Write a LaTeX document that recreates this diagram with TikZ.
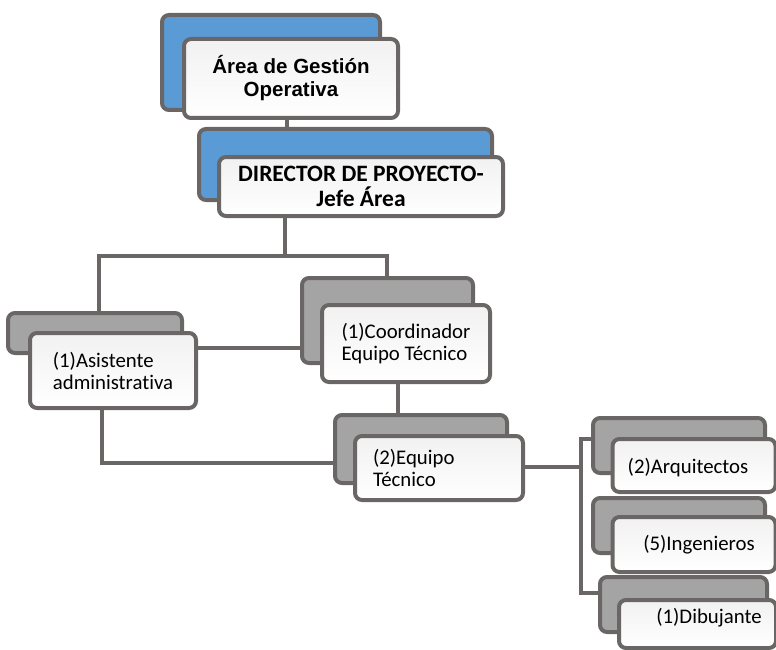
\documentclass[tikz,border=0pt]{standalone}
\usepackage{fontspec}
\setmainfont{Carlito}[Ligatures=NoCommon]
\newfontfamily\headfont{Liberation Sans}
\usetikzlibrary{calc}

\definecolor{edge}{HTML}{6B6666}
\definecolor{backgray}{HTML}{A4A4A4}
\definecolor{backblue}{HTML}{5B9BD5}
\definecolor{frontfill}{HTML}{F1F1F1}

\tikzset{
  box/.style={draw=edge, line width=4pt, rounded corners=7pt, inner sep=0pt},
  backg/.style={box, fill=backgray},
  backb/.style={box, fill=backblue},
  front/.style={box, top color=frontfill, bottom color=white},
  wire/.style={draw=edge, line width=3.2pt},
  lbl/.style={font=\fontsize{20.8}{22}\selectfont, align=left, inner sep=0pt},
  headlbl/.style={font=\headfont\bfseries\fontsize{20.5}{23}\selectfont, align=center},
  dirlbl/.style={font=\bfseries\fontsize{23.5}{25}\selectfont, align=center},
  sz/.style 2 args={minimum width=#1pt, minimum height=#2pt},
}

\begin{document}
\begin{tikzpicture}[x=1pt, y=-1pt]
  \useasboundingbox (0,0) rectangle (776,650);

  % junction points of the connectors
  \coordinate (j0) at (287,120);
  \coordinate (j1) at (285,256);
  \coordinate (jl) at (99,256);
  \coordinate (jr) at (387,256);
  \coordinate (j2) at (250,348);
  \coordinate (j3) at (398,400);
  \coordinate (j4) at (102,463);
  \coordinate (j5) at (581,467);
  \coordinate (j6) at (581,439);
  \coordinate (j7) at (581,593);

  % back plates
  \node[backb, sz={218}{95}]  (a1b)   at (271,62.5)  {};
  \node[backb, sz={293}{71}]  (a2b)   at (345.5,164.5) {};
  \node[backg, sz={174}{40}]  (asisb) at (95,333)    {};
  \node[backg, sz={171}{85}]  (coordb) at (387.5,320.5) {};
  \node[backg, sz={172}{68}]  (eqb)   at (421,449)   {};
  \node[backg, sz={172}{55}]  (arqb)  at (679,445.5) {};
  \node[backg, sz={172}{55}]  (ingb)  at (679,525.5) {};
  \node[backg, sz={167}{55}]  (dibb)  at (683.5,604.5) {};

  % connectors
  \draw[wire] (a1b.south -| j0) -- (a2b.north -| j0);
  \draw[wire] (a2b.south -| j1) -- (j1);
  \draw[wire] (asisb.north -| jl) -- (jl) -- (jr) -- (coordb.north -| jr);
  \draw[wire] (asisb.east |- j2) -- (coordb.west |- j2);
  \draw[wire] (coordb.south -| j3) -- (eqb.north -| j3);
  \draw[wire] (asisb.south -| j4) -- (j4) -- (eqb.west |- j4);
  \draw[wire] (eqb.east |- j5) -- (j5);
  \draw[wire] (arqb.west |- j6) -- (j6) -- (j7) -- (dibb.west |- j7);

  % front cards
  \node[front, sz={214}{79}, headlbl] (a1f) at (291,78.5)
    {Área de Gestión\\Operativa};
  \node[front, sz={284}{59}, dirlbl] (a2f) at (361,186.5)
    {DIRECTOR DE PROYECTO-\\Jefe Área};
  \node[front, sz={166}{75}, lbl] (asisf) at (113,370.5)
    {(1)Asistente\\administrativa};
  \node[front, sz={168}{77}, lbl] (coordf) at (406,343.5)
    {(1)Coordinador\\Equipo Técnico};
  \node[front, sz={168}{64}, lbl, text width=132pt] (eqf) at (439,468)
    {(2)Equipo\\Técnico};
  \node[front, sz={163}{53}] (arqf) at (694,465.5) {};
  \node[front, sz={163}{55}] (ingf) at (694,544.5) {};
  \node[front, sz={157}{48}] (dibf) at (697.5,624) {};

  % labels of the right-hand cards
  \node[lbl] (arqt) at (688,468) {(2)Arquitectos};
  \node[lbl] (ingt) at (699,545) {(5)Ingenieros};
  \node[lbl] (dibt) at (709,618) {(1)Dibujante};
\end{tikzpicture}
\end{document}
